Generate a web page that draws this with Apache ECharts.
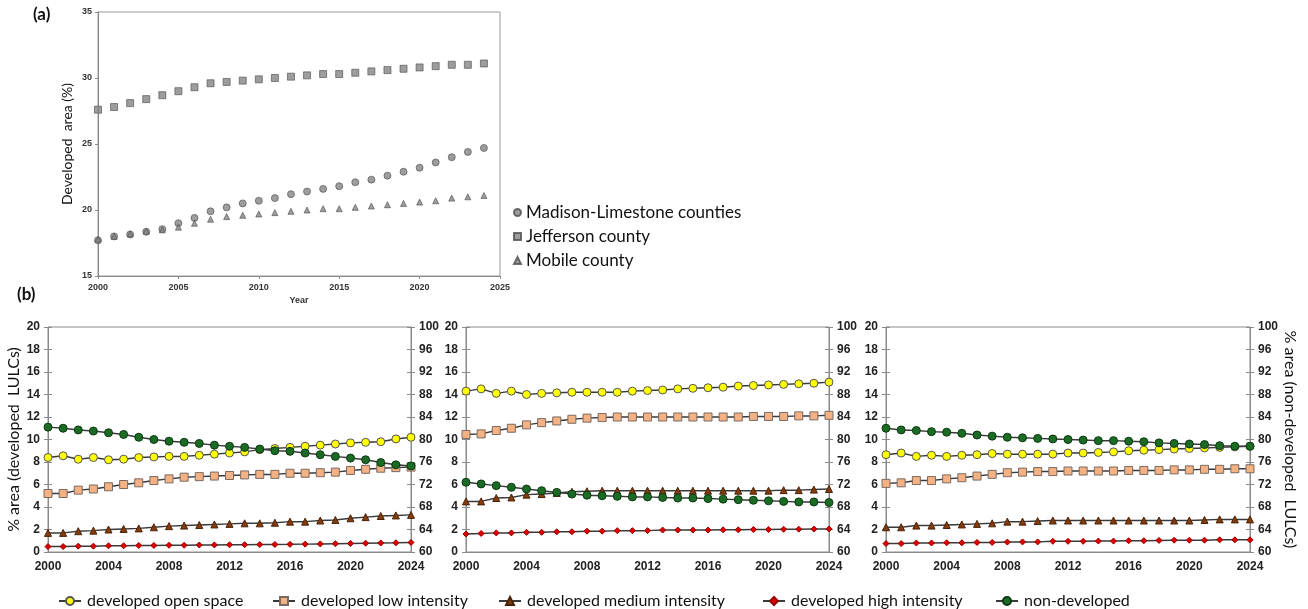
<!DOCTYPE html>
<html>
<head>
<meta charset="utf-8">
<title>Developed area trends</title>
<script src="https://cdn.jsdelivr.net/npm/echarts@6/dist/echarts.min.js"></script>
<style>
  html, body { margin: 0; padding: 0; background: #fff; }
  #chart { width: 1308px; height: 609px; }
</style>
</head>
<body>
<div id="chart"></div>
<script>
// Years shared by every series
const years = [2000, 2001, 2002, 2003, 2004, 2005, 2006, 2007, 2008, 2009, 2010, 2011, 2012,
               2013, 2014, 2015, 2016, 2017, 2018, 2019, 2020, 2021, 2022, 2023, 2024];

// (a) developed area (%) by county
const madisonLimestone = [17.7, 18.0, 18.15, 18.35, 18.55, 19.0, 19.4, 19.9, 20.2, 20.5, 20.7, 20.9, 21.2,
                          21.4, 21.6, 21.8, 22.1, 22.3, 22.6, 22.9, 23.2, 23.6, 24.0, 24.4, 24.7];
const jefferson = [27.6, 27.8, 28.1, 28.4, 28.7, 29.0, 29.3, 29.6, 29.7, 29.8, 29.9, 30.0, 30.1,
                   30.2, 30.3, 30.3, 30.4, 30.5, 30.6, 30.7, 30.8, 30.9, 31.0, 31.0, 31.1];
const mobile = [17.8, 18.0, 18.2, 18.4, 18.5, 18.7, 19.0, 19.3, 19.5, 19.6, 19.7, 19.8, 19.9,
                20.0, 20.1, 20.1, 20.2, 20.3, 20.4, 20.5, 20.6, 20.7, 20.9, 21.0, 21.1];

// (b) panel 1 — developed classes (% area, left axis) and non-developed (% area, right axis)
const p1Open = [8.4, 8.55, 8.25, 8.4, 8.2, 8.25, 8.4, 8.45, 8.5, 8.5, 8.6, 8.7, 8.8,
                8.9, 9.1, 9.2, 9.3, 9.4, 9.5, 9.6, 9.7, 9.75, 9.8, 10.05, 10.2];
const p1Low = [5.2, 5.2, 5.5, 5.6, 5.8, 6.0, 6.15, 6.35, 6.5, 6.65, 6.7, 6.75, 6.8,
               6.85, 6.9, 6.9, 7.0, 7.0, 7.05, 7.1, 7.25, 7.35, 7.45, 7.5, 7.55];
const p1Med = [1.7, 1.7, 1.85, 1.9, 2.0, 2.05, 2.1, 2.2, 2.3, 2.35, 2.4, 2.45, 2.5,
               2.55, 2.55, 2.6, 2.7, 2.7, 2.8, 2.85, 3.0, 3.1, 3.2, 3.25, 3.3];
const p1High = [0.48, 0.48, 0.52, 0.52, 0.55, 0.55, 0.58, 0.58, 0.6, 0.6, 0.62, 0.63, 0.64,
                0.65, 0.66, 0.67, 0.68, 0.7, 0.72, 0.74, 0.76, 0.78, 0.8, 0.82, 0.85];
const p1Non = [82.2, 82.0, 81.7, 81.5, 81.2, 80.9, 80.4, 80.0, 79.7, 79.5, 79.3, 79.0, 78.8,
               78.6, 78.3, 78.0, 77.9, 77.6, 77.3, 77.0, 76.7, 76.4, 75.9, 75.5, 75.3];

// (b) panel 2
const p2Open = [14.3, 14.5, 14.1, 14.3, 14.0, 14.1, 14.15, 14.2, 14.2, 14.2, 14.2, 14.3, 14.35,
                14.4, 14.5, 14.55, 14.6, 14.65, 14.75, 14.8, 14.85, 14.9, 14.95, 15.0, 15.1];
const p2Low = [10.45, 10.5, 10.8, 11.0, 11.3, 11.5, 11.65, 11.8, 11.9, 11.95, 12.0, 12.0, 12.0,
               12.0, 12.0, 12.0, 12.0, 12.0, 12.0, 12.05, 12.05, 12.05, 12.1, 12.1, 12.15];
const p2Med = [4.5, 4.5, 4.8, 4.85, 5.1, 5.15, 5.25, 5.35, 5.4, 5.45, 5.45, 5.45, 5.45,
               5.45, 5.45, 5.45, 5.45, 5.45, 5.45, 5.45, 5.45, 5.5, 5.5, 5.55, 5.6];
const p2High = [1.6, 1.65, 1.7, 1.7, 1.75, 1.75, 1.8, 1.8, 1.85, 1.85, 1.9, 1.9, 1.9,
                1.95, 1.95, 1.95, 1.95, 1.97, 1.97, 2.0, 2.0, 2.02, 2.03, 2.04, 2.05];
const p2Non = [72.4, 72.1, 71.8, 71.5, 71.2, 70.9, 70.6, 70.3, 70.1, 70.0, 69.9, 69.8, 69.8,
               69.7, 69.6, 69.6, 69.5, 69.4, 69.3, 69.2, 69.1, 69.0, 68.9, 68.9, 68.8];

// (b) panel 3
const p3Open = [8.65, 8.8, 8.5, 8.6, 8.5, 8.6, 8.65, 8.75, 8.7, 8.7, 8.7, 8.7, 8.8,
                8.8, 8.85, 8.9, 9.0, 9.05, 9.1, 9.15, 9.2, 9.25, 9.3, 9.35, 9.4];
const p3Low = [6.1, 6.15, 6.35, 6.35, 6.5, 6.6, 6.75, 6.9, 7.05, 7.1, 7.15, 7.15, 7.2,
               7.2, 7.2, 7.2, 7.25, 7.25, 7.25, 7.3, 7.3, 7.35, 7.35, 7.4, 7.4];
const p3Med = [2.2, 2.2, 2.35, 2.35, 2.4, 2.45, 2.5, 2.55, 2.7, 2.7, 2.75, 2.8, 2.8,
               2.8, 2.8, 2.8, 2.8, 2.8, 2.8, 2.8, 2.8, 2.85, 2.9, 2.9, 2.9];
const p3High = [0.75, 0.75, 0.8, 0.8, 0.82, 0.82, 0.85, 0.85, 0.88, 0.9, 0.9, 0.95, 0.95,
                0.95, 0.97, 0.97, 1.0, 1.0, 1.03, 1.05, 1.05, 1.05, 1.08, 1.08, 1.08];
const p3Non = [82.0, 81.7, 81.6, 81.4, 81.3, 81.1, 80.8, 80.6, 80.4, 80.3, 80.2, 80.1, 80.0,
               79.9, 79.8, 79.8, 79.7, 79.6, 79.4, 79.3, 79.2, 79.1, 78.9, 78.8, 78.8];

// Series names
const countyNames = ['Madison-Limestone counties', 'Jefferson county', 'Mobile county'];
const classNames = ['developed open space', 'developed low intensity', 'developed medium intensity',
                    'developed high intensity', 'non-developed'];

const pairs = vals => vals.map((v, i) => [years[i], v]);
const plain = v => String(v);

const AX = '#8a8a8a';
const TICKFONT = 'Liberation Sans, Arial, sans-serif';
const TEXTFONT = 'Lato, Liberation Sans, sans-serif';

// Marker styling for the five land-cover classes
const classStyle = [
  { symbol: 'circle', size: 8, color: '#ffff00', border: '#555' },
  { symbol: 'rect', size: 8, color: '#f4b183', border: '#7a6a60' },
  { symbol: 'triangle', size: 7, color: '#843c0c', border: '#4a2208' },
  { symbol: 'diamond', size: 6, color: '#e00000', border: '#900' },
  { symbol: 'circle', size: 8, color: '#1b6b25', border: '#0b3a12' }
];

const panels = [
  { left: 48, right: 897, data: [p1Open, p1Low, p1Med, p1High, p1Non] },
  { left: 466, right: 479, data: [p2Open, p2Low, p2Med, p2High, p2Non] },
  { left: 886, right: 58, data: [p3Open, p3Low, p3Med, p3High, p3Non] }
];

const grids = [{ left: 98, right: 808, top: 12, bottom: 333, show: true, borderColor: '#9a9a9a', borderWidth: 1 }];
const xAxes = [{
  gridIndex: 0, type: 'value', min: 2000, max: 2025, interval: 5,
  name: 'Year', nameLocation: 'middle', nameGap: 20,
  nameTextStyle: { fontFamily: TICKFONT, fontSize: 9, fontWeight: 'bold', color: '#333' },
  axisLine: { lineStyle: { color: AX } },
  axisTick: { show: true, length: 3, lineStyle: { color: AX } },
  axisLabel: { fontFamily: TICKFONT, fontSize: 9, fontWeight: 'bold', color: '#333', margin: 7, formatter: plain },
  splitLine: { show: false }
}];
const yAxes = [{
  gridIndex: 0, type: 'value', min: 15, max: 35, interval: 5,
  name: 'Developed  area (%)', nameLocation: 'middle', nameGap: 24,
  nameTextStyle: { fontFamily: TEXTFONT, fontSize: 14, color: '#111' },
  axisLine: { show: true, lineStyle: { color: AX } },
  axisTick: { show: true, length: 3, lineStyle: { color: AX } },
  axisLabel: { fontFamily: TICKFONT, fontSize: 9, fontWeight: 'bold', color: '#333', margin: 6 },
  splitLine: { show: false }
}];

const series = [
  { name: countyNames[0], type: 'scatter', xAxisIndex: 0, yAxisIndex: 0, symbol: 'circle', symbolSize: 7,
    itemStyle: { color: '#858585', borderColor: '#4d4d4d', borderWidth: 0.8 }, data: pairs(madisonLimestone) },
  { name: countyNames[1], type: 'scatter', xAxisIndex: 0, yAxisIndex: 0, symbol: 'rect', symbolSize: 7,
    itemStyle: { color: '#858585', borderColor: '#4d4d4d', borderWidth: 0.8 }, data: pairs(jefferson) },
  { name: countyNames[2], type: 'scatter', xAxisIndex: 0, yAxisIndex: 0, symbol: 'triangle', symbolSize: 6,
    itemStyle: { color: '#858585', borderColor: '#4d4d4d', borderWidth: 0.8 }, data: pairs(mobile) }
];

const tickLabel = { fontFamily: TICKFONT, fontSize: 12, fontWeight: 'bold', color: '#222', margin: 8 };

panels.forEach((p, k) => {
  const g = k + 1;
  grids.push({ left: p.left, right: p.right, top: 327, bottom: 57, show: true, borderColor: AX, borderWidth: 1 });
  xAxes.push({
    gridIndex: g, type: 'value', min: 2000, max: 2024, interval: 4,
    axisLine: { lineStyle: { color: AX } },
    axisTick: { show: false },
    axisLabel: { ...tickLabel, margin: 9, formatter: plain },
    splitLine: { show: false }
  });
  const base = yAxes.length;
  const leftName = k === 0 ? '% area (developed  LULCs)' : '';
  const rightName = k === 2 ? '% area (non-developed  LULCs)' : '';
  // main left / right value axes
  yAxes.push({
    gridIndex: g, type: 'value', position: 'left', min: 0, max: 20, interval: 2,
    name: leftName, nameLocation: 'middle', nameGap: 26,
    nameTextStyle: { fontFamily: TEXTFONT, fontSize: 16, color: '#111' },
    axisLine: { show: true, lineStyle: { color: AX } },
    axisTick: { show: true, length: 4, lineStyle: { color: AX } },
    axisLabel: tickLabel, splitLine: { show: false }
  });
  yAxes.push({
    gridIndex: g, type: 'value', position: 'right', min: 60, max: 100, interval: 4,
    name: rightName, nameLocation: 'middle', nameGap: 28, nameRotate: -90,
    nameTextStyle: { fontFamily: TEXTFONT, fontSize: 16, color: '#111' },
    axisLine: { show: true, lineStyle: { color: AX } },
    axisTick: { show: true, length: 4, lineStyle: { color: AX } },
    axisLabel: tickLabel, splitLine: { show: false }
  });
  // companion axes supplying the inward half of each crossing tick
  yAxes.push({
    gridIndex: g, type: 'value', position: 'left', min: 0, max: 20, interval: 2,
    axisLine: { show: false }, axisLabel: { show: false }, splitLine: { show: false },
    axisTick: { show: true, inside: true, length: 4, lineStyle: { color: AX } }
  });
  yAxes.push({
    gridIndex: g, type: 'value', position: 'right', min: 60, max: 100, interval: 4,
    axisLine: { show: false }, axisLabel: { show: false }, splitLine: { show: false },
    axisTick: { show: true, inside: true, length: 4, lineStyle: { color: AX } }
  });
  p.data.forEach((vals, c) => {
    const st = classStyle[c];
    series.push({
      name: classNames[c], type: 'line', xAxisIndex: g, yAxisIndex: c === 4 ? base + 1 : base,
      symbol: st.symbol, symbolSize: st.size, showAllSymbol: true,
      lineStyle: { color: '#3a3a3a', width: 1.5 },
      itemStyle: { color: st.color, borderColor: st.border, borderWidth: 1 },
      z: c === 4 ? 3 : 2 + c * 0.1,
      data: pairs(vals)
    });
  });
});

// (b) legend, one entry per class along the bottom
const legendLeft = [53, 267, 493, 757, 990];
const legends = classNames.map((n, i) => ({
  data: [n], left: legendLeft[i], top: 588, itemWidth: 22, itemHeight: 10, itemGap: 0,
  textStyle: { fontFamily: TEXTFONT, fontSize: 16, color: '#111', padding: [0, 0, 0, 1] },
  selectedMode: false
}));
// (a) legend, stacked beside the scatter plot
legends.push({
  data: countyNames, orient: 'vertical', left: 508, top: 199, itemWidth: 7, itemHeight: 7, itemGap: 7,
  textStyle: { fontFamily: TEXTFONT, fontSize: 17, color: '#111', lineHeight: 17 },
  selectedMode: false
});

const chart = echarts.init(document.getElementById('chart'), null, { renderer: 'canvas' });
chart.setOption({
  backgroundColor: '#fff',
  animation: false,
  grid: grids,
  xAxis: xAxes,
  yAxis: yAxes,
  legend: legends,
  graphic: [
    { type: 'text', left: 33, top: 6, style: { text: '(a)', font: 'bold 17px Lato, sans-serif', fill: '#111' } },
    { type: 'text', left: 17, top: 286, style: { text: '(b)', font: 'bold 17px Lato, sans-serif', fill: '#111' } }
  ],
  series: series
});
</script>
</body>
</html>
